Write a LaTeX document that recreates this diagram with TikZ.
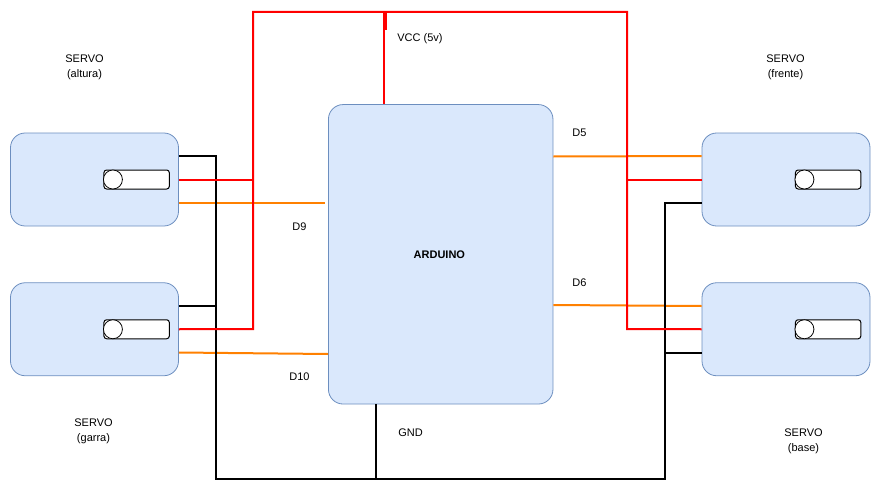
\documentclass[tikz,border=0pt]{standalone}
\usepackage{fontspec}
\setmainfont{Liberation Sans}
\definecolor{boxfill}{HTML}{DAE8FC}
\definecolor{boxline}{HTML}{6C8EBF}
\definecolor{wirered}{HTML}{FF0000}
\definecolor{wireorange}{HTML}{FF8000}
\tikzset{
	servobox/.style={draw=boxline,fill=boxfill,line width=.6pt,rounded corners=11pt,minimum width=126pt,minimum height=69.75pt,inner sep=0pt},
	boardbox/.style={draw=boxline,fill=boxfill,line width=.6pt,rounded corners=11pt,minimum width=168.4pt,minimum height=224.6pt,inner sep=0pt,font=\fontsize{8.25}{10}\selectfont\bfseries},
	slotbox/.style={draw=black,fill=white,line width=.75pt,rounded corners=2pt,minimum width=49pt,minimum height=14.25pt,inner sep=0pt},
	knobdot/.style={circle,draw=black,fill=white,line width=.6pt,minimum size=14.25pt,inner sep=0pt},
	lbl/.style={align=center,inner sep=0pt,font=\fontsize{8.25}{11.25}\selectfont},
	blackwire/.style={draw=black,line width=1.5pt},
	redwire/.style={draw=wirered,line width=1.5pt},
	orangewire/.style={draw=wireorange,line width=1.5pt}
}
\begin{document}
\begin{tikzpicture}[x=.75pt,y=-.75pt]
	\useasboundingbox (0,0) rectangle (881,492);

	%Servos and board
	\node[servobox] (altura) at (94.5,179.5) {};
	\node[servobox] (garra) at (94.5,329.25) {};
	\node[servobox] (frente) at (786,179.5) {};
	\node[servobox] (base) at (786,329.25) {};
	\node[boardbox] (arduino) at (440.7,254.3) {\kern-2pt ARDUINO};

	%Sliders
	\foreach \s in {altura,garra,frente,base}{
		\node[slotbox,xshift=-31.7pt] (\s slot) at (\s.east) {};
		\node[knobdot,xshift=7.1pt] (\s knob) at (\s slot.west) {};
	}

	%Marking coordinates
	\coordinate (blackL) at (216,156);
	\coordinate (blackLb) at (216,479);
	\coordinate (gndB) at (376,479);
	\coordinate (blackRb) at (665,479);
	\coordinate (blackR) at (665,203);
	\coordinate (junB) at (216,305.5);
	\coordinate (junC) at (665,352.5);
	\coordinate (redA) at (253,179.5);
	\coordinate (redL) at (253,329);
	\coordinate (redLt) at (253,12);
	\coordinate (redRt) at (627,12);
	\coordinate (redR) at (627,329);
	\coordinate (redC) at (627,179.5);
	\coordinate (vccT) at (384,12);
	\coordinate (stubT) at (385.5,12);
	\coordinate (stubB) at (385.5,30);
	\coordinate (d9end) at (324.5,202.5);

	%Drawing orange wires
	\draw[orangewire] (altura.east |- d9end) -- (d9end);
	\draw[orangewire] (garra.east |- 0,352.5) -- (arduino.west |- 0,354);
	\draw[orangewire] (arduino.east |- 0,156.5) -- (frente.west |- 0,156);
	\draw[orangewire] (arduino.east |- 0,305) -- (base.west |- 0,306);

	%Drawing black wires
	\draw[blackwire] (altura.east |- blackL) -- (blackL) -- (blackLb) -- (blackRb) -- (blackR) -- (frente.west |- blackR);
	\draw[blackwire] (garra.east |- junB) -- (junB);
	\draw[blackwire] (base.west |- junC) -- (junC);
	\draw[blackwire] (arduino.south -| gndB) -- (gndB);

	%Drawing red wires
	\draw[redwire] (garra.east) -- (redL) -- (redLt) -- (redRt) -- (redR) -- (base.west);
	\draw[redwire] (altura.east) -- (redA);
	\draw[redwire] (redC) -- (frente.west);
	\draw[redwire] (arduino.north -| vccT) -- (vccT);
	\draw[redwire,line width=2pt] (stubT) -- (stubB);

	%Labels
	\node[lbl] (lblaltura) at (84.5,67.5) {SERVO\\(altura)};
	\node[lbl] (lblfrente) at (785.5,67.5) {SERVO\\(frente)};
	\node[lbl] (lblgarra) at (93.5,431.5) {SERVO\\(garra)};
	\node[lbl] (lblbase) at (803.5,441.5) {SERVO\\(base)};
	\node[lbl] (lblvcc) at (420,39) {VCC (5v)};
	\node[lbl] (lblgnd) at (410.5,432.5) {GND};
	\node[lbl] (lbldnine) at (299.5,226.5) {D9};
	\node[lbl] (lbldten) at (299.5,376.5) {D10};
	\node[lbl] (lbldfive) at (579.5,133) {D5};
	\node[lbl] (lbldsix) at (579.5,282.5) {D6};
\end{tikzpicture}
\end{document}
